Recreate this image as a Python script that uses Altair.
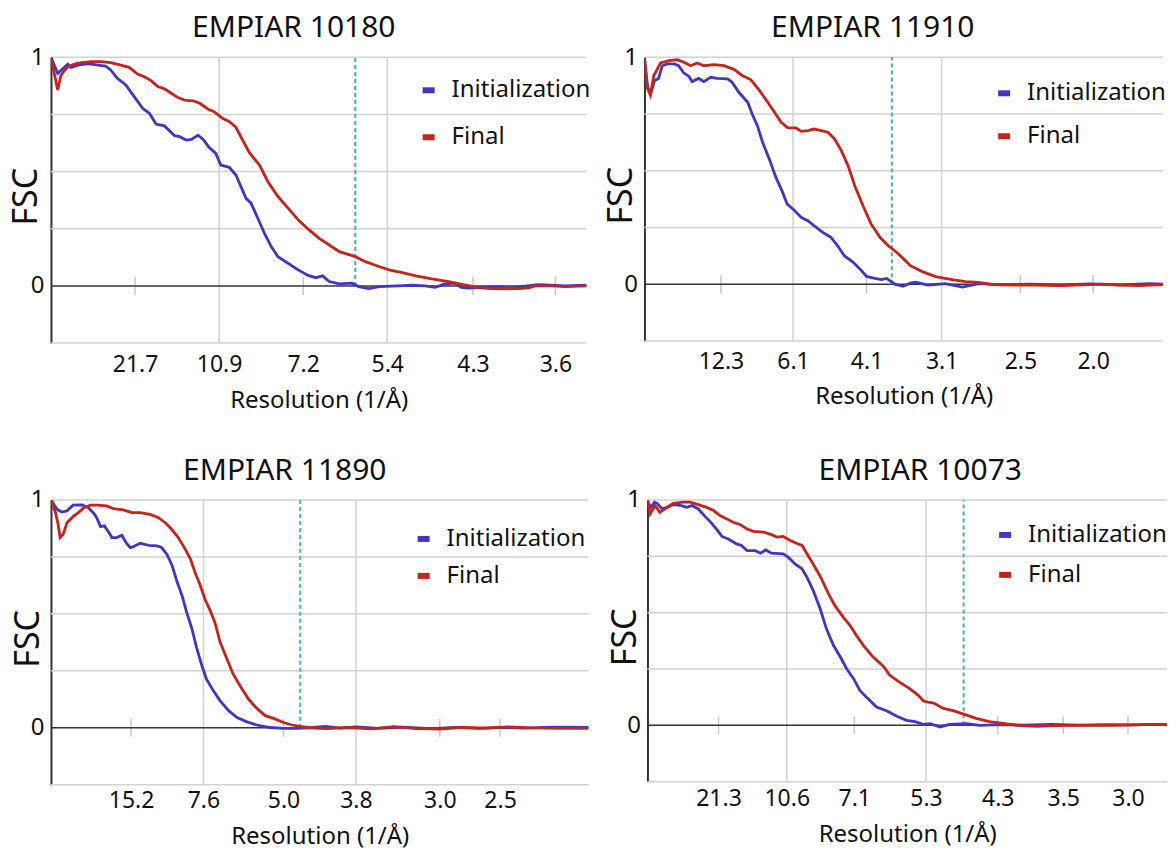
import altair as alt
import pandas as pd

BLUE = "#4335c4"
RED = "#c4241a"
TEAL = "#3fb4b4"
SERIES = ["Initialization", "Final"]

# ---------------- Panel 1: EMPIAR 10180 ----------------
p1_title = "EMPIAR 10180"
p1_init_u = [0, 0.08, 0.14, 0.2, 0.24, 0.32, 0.4, 0.48, 0.56, 0.65, 0.71, 0.79, 0.89, 0.99, 1.09, 1.17, 1.25, 1.35, 1.47, 1.53, 1.61, 1.67, 1.75, 1.81, 1.88, 1.96, 2.02, 2.12, 2.2, 2.32, 2.38, 2.46, 2.54, 2.62, 2.70, 2.82, 2.94, 3.06, 3.15, 3.23, 3.31, 3.43, 3.58, 3.66, 3.78, 3.9, 4.13, 4.29, 4.45, 4.57, 4.69, 4.8, 4.88, 4.96, 5.16, 5.32, 5.48, 5.67, 5.79, 5.95, 6.11, 6.37]
p1_init_fsc = [1.0, 0.93, 0.95, 0.97, 0.956, 0.966, 0.97, 0.97, 0.966, 0.962, 0.945, 0.908, 0.879, 0.828, 0.777, 0.755, 0.708, 0.70, 0.657, 0.653, 0.638, 0.641, 0.659, 0.641, 0.606, 0.58, 0.529, 0.519, 0.485, 0.383, 0.362, 0.296, 0.23, 0.172, 0.128, 0.099, 0.07, 0.046, 0.036, 0.044, 0.019, 0.009, 0.012, -0.003, -0.012, -0.003, 0, 0.003, 0, -0.006, 0.009, 0.012, -0.006, -0.009, -0.006, -0.003, -0.009, 0, 0.006, 0.003, 0, 0.003]
p1_final_u = [0, 0.08, 0.12, 0.2, 0.28, 0.36, 0.48, 0.6, 0.71, 0.83, 0.93, 1.03, 1.11, 1.19, 1.27, 1.35, 1.43, 1.51, 1.59, 1.69, 1.77, 1.87, 1.94, 2.04, 2.12, 2.2, 2.28, 2.36, 2.48, 2.58, 2.7, 2.82, 2.94, 3.07, 3.19, 3.31, 3.43, 3.62, 3.74, 3.9, 4.02, 4.18, 4.34, 4.53, 4.73, 4.93, 5.09, 5.24, 5.4, 5.56, 5.68, 5.76, 5.96, 6.11, 6.37]
p1_final_fsc = [1.0, 0.857, 0.923, 0.959, 0.97, 0.977, 0.981, 0.981, 0.977, 0.966, 0.956, 0.927, 0.915, 0.898, 0.872, 0.862, 0.843, 0.824, 0.813, 0.81, 0.799, 0.773, 0.762, 0.733, 0.719, 0.694, 0.638, 0.583, 0.529, 0.456, 0.391, 0.34, 0.289, 0.245, 0.208, 0.179, 0.15, 0.128, 0.106, 0.085, 0.07, 0.058, 0.044, 0.031, 0.019, 0.004, -0.007, -0.012, -0.013, -0.012, -0.009, 0, 0, -0.003, 0]
p1_tick_u = [1, 2, 3, 4, 5.02, 6]
p1_tick_labels = ["21.7", "10.9", "7.2", "5.4", "4.3", "3.6"]
p1_cutoff_u = 3.62

# ---------------- Panel 2: EMPIAR 11910 ----------------
p2_title = "EMPIAR 11910"
p2_init_u = [0, 0.045, 0.09, 0.135, 0.19, 0.24, 0.31, 0.4, 0.46, 0.53, 0.6, 0.64, 0.73, 0.8, 0.89, 0.98, 1.12, 1.18, 1.27, 1.39, 1.45, 1.52, 1.59, 1.68, 1.77, 1.86, 1.92, 2.02, 2.11, 2.15, 2.2, 2.29, 2.4, 2.51, 2.6, 2.69, 2.81, 2.9, 2.99, 3.1, 3.19, 3.26, 3.37, 3.48, 3.59, 3.65, 3.82, 4.05, 4.28, 4.5, 4.8, 5.2, 5.6, 6.0, 6.4, 6.8, 7.1]
p2_init_fsc = [0.996, 0.863, 0.846, 0.897, 0.907, 0.963, 0.971, 0.971, 0.963, 0.931, 0.916, 0.893, 0.907, 0.893, 0.912, 0.907, 0.905, 0.89, 0.846, 0.802, 0.75, 0.699, 0.626, 0.552, 0.471, 0.405, 0.354, 0.325, 0.295, 0.288, 0.28, 0.256, 0.229, 0.207, 0.17, 0.126, 0.097, 0.068, 0.035, 0.026, 0.021, 0.026, 0.001, -0.009, 0.006, 0.009, -0.003, 0.003, -0.012, 0.003, -0.002, 0.001, -0.003, 0.002, -0.002, 0.003, 0]
p2_final_u = [0, 0.036, 0.08, 0.126, 0.216, 0.33, 0.44, 0.53, 0.62, 0.71, 0.8, 0.94, 1.07, 1.21, 1.32, 1.43, 1.55, 1.66, 1.75, 1.84, 1.93, 2.04, 2.11, 2.2, 2.28, 2.38, 2.47, 2.56, 2.65, 2.74, 2.83, 2.94, 3.05, 3.17, 3.28, 3.37, 3.49, 3.58, 3.74, 3.92, 4.14, 4.32, 4.5, 4.68, 4.95, 5.26, 5.6, 5.9, 6.15, 6.4, 6.65, 6.9, 7.1]
p2_final_fsc = [1.0, 0.868, 0.834, 0.919, 0.975, 0.985, 0.99, 0.978, 0.963, 0.975, 0.963, 0.968, 0.963, 0.946, 0.919, 0.902, 0.853, 0.802, 0.758, 0.714, 0.689, 0.689, 0.674, 0.677, 0.684, 0.677, 0.67, 0.64, 0.589, 0.523, 0.435, 0.347, 0.266, 0.207, 0.17, 0.148, 0.112, 0.082, 0.056, 0.034, 0.021, 0.012, 0.009, 0, -0.003, -0.003, -0.006, -0.002, 0.001, -0.003, -0.006, -0.002, 0]
p2_tick_u = [1.03, 2, 2.99, 4, 5.06, 6.04]
p2_tick_labels = ["12.3", "6.1", "4.1", "3.1", "2.5", "2.0"]
p2_cutoff_u = 3.33

# ---------------- Panel 3: EMPIAR 11890 ----------------
p3_title = "EMPIAR 11890"
p3_init_u = [0, 0.08, 0.14, 0.21, 0.29, 0.41, 0.49, 0.56, 0.6, 0.65, 0.7, 0.76, 0.8, 0.86, 0.93, 0.99, 1.04, 1.08, 1.17, 1.28, 1.39, 1.45, 1.52, 1.59, 1.65, 1.72, 1.78, 1.85, 1.91, 1.98, 2.04, 2.13, 2.22, 2.33, 2.44, 2.57, 2.7, 2.87, 3.05, 3.22, 3.4, 3.6, 3.8, 4.0, 4.3, 4.6, 5.0, 5.3, 5.6, 5.9, 6.2, 6.6, 7.05]
p3_init_fsc = [1.0, 0.959, 0.947, 0.952, 0.977, 0.978, 0.966, 0.942, 0.922, 0.883, 0.886, 0.857, 0.835, 0.835, 0.845, 0.81, 0.791, 0.795, 0.81, 0.801, 0.798, 0.791, 0.762, 0.711, 0.645, 0.579, 0.506, 0.433, 0.352, 0.272, 0.213, 0.162, 0.118, 0.075, 0.045, 0.026, 0.012, 0.001, -0.003, -0.003, 0, 0.006, -0.002, 0.004, -0.003, 0.003, -0.004, 0.002, -0.003, 0.002, -0.002, 0.003, 0.001]
p3_final_u = [0, 0.06, 0.09, 0.12, 0.16, 0.21, 0.3, 0.36, 0.43, 0.52, 0.6, 0.73, 0.82, 0.95, 1.06, 1.17, 1.3, 1.41, 1.5, 1.59, 1.67, 1.76, 1.83, 1.89, 1.96, 2.02, 2.09, 2.15, 2.22, 2.31, 2.39, 2.48, 2.59, 2.7, 2.81, 2.92, 3.05, 3.16, 3.27, 3.4, 3.6, 3.9, 4.2, 4.5, 4.8, 5.1, 5.4, 5.7, 6.0, 6.3, 6.7, 7.05]
p3_final_fsc = [1.0, 0.944, 0.9, 0.835, 0.849, 0.9, 0.93, 0.944, 0.966, 0.977, 0.977, 0.974, 0.962, 0.956, 0.944, 0.944, 0.937, 0.922, 0.9, 0.868, 0.835, 0.784, 0.74, 0.681, 0.623, 0.564, 0.513, 0.462, 0.374, 0.301, 0.235, 0.184, 0.126, 0.085, 0.053, 0.041, 0.023, 0.012, 0.006, 0, -0.004, 0.001, -0.005, 0.005, -0.004, -0.006, 0.002, -0.002, 0.004, -0.001, -0.003, -0.003]
p3_tick_u = [1.05, 2, 3.05, 4, 5.1, 5.89]
p3_tick_labels = ["15.2", "7.6", "5.0", "3.8", "3.0", "2.5"]
p3_cutoff_u = 3.27

# ---------------- Panel 4: EMPIAR 10073 ----------------
p4_title = "EMPIAR 10073"
p4_init_u = [0, 0.05, 0.1, 0.14, 0.21, 0.28, 0.37, 0.49, 0.56, 0.64, 0.73, 0.83, 0.92, 1.0, 1.07, 1.16, 1.28, 1.35, 1.43, 1.55, 1.62, 1.7, 1.78, 1.95, 2.02, 2.12, 2.22, 2.29, 2.38, 2.48, 2.57, 2.67, 2.77, 2.86, 2.96, 3.05, 3.15, 3.29, 3.44, 3.58, 3.72, 3.84, 3.96, 4.06, 4.2, 4.34, 4.58, 4.77, 5.06, 5.4, 5.8, 6.2, 6.6, 7.0, 7.3, 7.6]
p4_init_fsc = [0.994, 0.967, 0.99, 0.985, 0.96, 0.967, 0.979, 0.975, 0.967, 0.975, 0.96, 0.926, 0.897, 0.867, 0.838, 0.827, 0.805, 0.798, 0.775, 0.775, 0.764, 0.778, 0.764, 0.761, 0.746, 0.716, 0.694, 0.657, 0.598, 0.517, 0.428, 0.355, 0.303, 0.251, 0.207, 0.155, 0.123, 0.081, 0.064, 0.04, 0.022, 0.016, 0.004, 0.007, -0.007, 0.004, 0.007, 0, 0.003, 0.001, 0.004, 0.001, 0.003, 0.002, 0.004, 0.002]
p4_final_u = [0, 0.04, 0.11, 0.18, 0.28, 0.37, 0.52, 0.61, 0.73, 0.85, 0.95, 1.04, 1.14, 1.23, 1.33, 1.43, 1.52, 1.67, 1.78, 1.86, 1.95, 2.05, 2.14, 2.22, 2.29, 2.38, 2.5, 2.6, 2.69, 2.81, 2.91, 3.0, 3.1, 3.24, 3.39, 3.48, 3.62, 3.77, 3.89, 3.96, 4.03, 4.11, 4.25, 4.39, 4.54, 4.72, 4.91, 5.16, 5.35, 5.59, 5.83, 6.21, 6.69, 7.27, 7.6]
p4_final_fsc = [1.0, 0.938, 0.975, 0.945, 0.967, 0.985, 0.99, 0.99, 0.979, 0.967, 0.953, 0.931, 0.916, 0.901, 0.891, 0.871, 0.861, 0.857, 0.846, 0.835, 0.838, 0.82, 0.808, 0.798, 0.761, 0.716, 0.65, 0.583, 0.532, 0.48, 0.443, 0.399, 0.355, 0.303, 0.261, 0.222, 0.192, 0.162, 0.133, 0.108, 0.103, 0.099, 0.075, 0.065, 0.05, 0.031, 0.017, 0.006, -0.001, -0.004, -0.001, 0, 0, 0.004, 0]
p4_tick_u = [1.02, 2, 2.97, 4, 5.03, 5.97, 6.9]
p4_tick_labels = ["21.3", "10.6", "7.1", "5.3", "4.3", "3.5", "3.0"]
p4_cutoff_u = 4.54

GRID_Y = [-0.25, 0.25, 0.5, 0.75, 1.0]


def panel(title, tdx, iu, iv, fu, fv, tick_u, tick_lab, cutoff, xmax, w, h,
          lx, ly, lrow, ytx, lpad, tpad):
    xs = alt.Scale(domain=[0, xmax], nice=False, zero=False)
    ys = alt.Scale(domain=[-0.25, 1.0], nice=False, zero=False)
    expr = "''"
    for t, lab in reversed(list(zip(tick_u, tick_lab))):
        expr = f"abs(datum.value - {t}) < 0.001 ? '{lab}' : ({expr})"
    xaxis = alt.Axis(values=tick_u, labelExpr=expr, title="Resolution (1/Å)",
                     domain=False, ticks=False, grid=False, labelFontSize=23,
                     labelPadding=lpad, titleFontSize=24, titleFontWeight="normal",
                     titlePadding=tpad, labelColor="#111", titleColor="#111",
                     labelFlush=False, labelOverlap=False)
    yaxis = alt.Axis(values=[0, 1], format="d", title="FSC", domain=True,
                     domainColor="#333", domainWidth=2, ticks=False, grid=False,
                     labelFontSize=24, labelPadding=7, labelColor="#111",
                     titleFontSize=34, titleFontWeight="normal",
                     titleX=ytx, titleY=h / 2 - 4, titleBaseline="alphabetic",
                     titleColor="#111")
    cscale = alt.Scale(domain=SERIES, range=[BLUE, RED])
    legend = alt.Legend(title=None, orient="none", legendX=lx, legendY=ly,
                        symbolType="stroke", symbolSize=144, symbolStrokeWidth=6,
                        labelFontSize=24, labelOffset=11, rowPadding=lrow,
                        padding=0, labelColor="#111")

    X = lambda f: alt.X(f, scale=xs, axis=xaxis)
    Y = lambda f: alt.Y(f, scale=ys, axis=yaxis)

    hgrid = alt.Chart(pd.DataFrame({"v": GRID_Y})).mark_rule(
        color="#d2d2d2", strokeWidth=1.5).encode(y=Y("v:Q"))
    grid_u = [tick_u[1], tick_u[3]]
    vgrid = alt.Chart(pd.DataFrame({"u": grid_u})).mark_rule(
        color="#d2d2d2", strokeWidth=1.5).encode(x=X("u:Q"))
    small_u = [t for i, t in enumerate(tick_u) if i not in (1, 3)]
    small = alt.Chart(pd.DataFrame({"u": small_u, "v": -0.04, "b": 0.04})).mark_rule(
        color="#c8c8c8", strokeWidth=1.5).encode(x=X("u:Q"), y=Y("v:Q"), y2="b:Q")
    zero = alt.Chart(pd.DataFrame({"v": [0.0]})).mark_rule(
        color="#333333", strokeWidth=1.5).encode(y=Y("v:Q"))
    cut = alt.Chart(pd.DataFrame({"u": [cutoff], "v": [0.0], "b": [1.0]})).mark_rule(
        color=TEAL, strokeWidth=2, strokeDash=[4, 3]).encode(
        x=X("u:Q"), y=Y("v:Q"), y2="b:Q")

    df_i = pd.DataFrame({"u": iu, "v": iv, "s": SERIES[0]})
    df_f = pd.DataFrame({"u": fu, "v": fv, "s": SERIES[1]})

    def line(df):
        return alt.Chart(df).mark_line(strokeWidth=2.8, clip=True).encode(
            x=X("u:Q"), y=Y("v:Q"),
            color=alt.Color("s:N", scale=cscale, legend=legend),
        )

    return alt.layer(hgrid, vgrid, small, zero, cut, line(df_i), line(df_f)).properties(
        width=w, height=h,
        title=alt.TitleParams(text=title, fontSize=30, fontWeight="normal",
                              anchor="middle", frame="group", dx=tdx, offset=2,
                              color="#111"))


c1 = panel(p1_title, -25, p1_init_u, p1_init_fsc, p1_final_u, p1_final_fsc,
           p1_tick_u, p1_tick_labels, p1_cutoff_u, 6.37, 536, 286, 366, 21, 23, -14, 10, 12)
c2 = panel(p2_title, -31, p2_init_u, p2_init_fsc, p2_final_u, p2_final_fsc,
           p2_tick_u, p2_tick_labels, p2_cutoff_u, 6.98, 519, 284, 348, 24, 19, -13, 9, 11)
c3 = panel(p3_title, -35, p3_init_u, p3_init_fsc, p3_final_u, p3_final_fsc,
           p3_tick_u, p3_tick_labels, p3_cutoff_u, 7.05, 538, 285, 361, 27, 13, -12, 5, 12)
c4 = panel(p4_title, 13, p4_init_u, p4_init_fsc, p4_final_u, p4_final_fsc,
           p4_tick_u, p4_tick_labels, p4_cutoff_u, 7.46, 520, 282, 346, 23, 16, -12, 6, 12)

row1 = alt.hconcat(c1, c2, spacing=14).resolve_scale(color="independent")
row2 = alt.hconcat(c3, c4, spacing=19).resolve_scale(color="independent")
chart = alt.vconcat(row1, row2, spacing=44).resolve_scale(color="independent").configure(
    font="Noto Sans", padding={"left": 2, "top": 5, "right": 0, "bottom": 0},
    background="white"
).configure_view(stroke=None)

chart.save("out.html", embed_options={"renderer": "svg", "actions": False})
